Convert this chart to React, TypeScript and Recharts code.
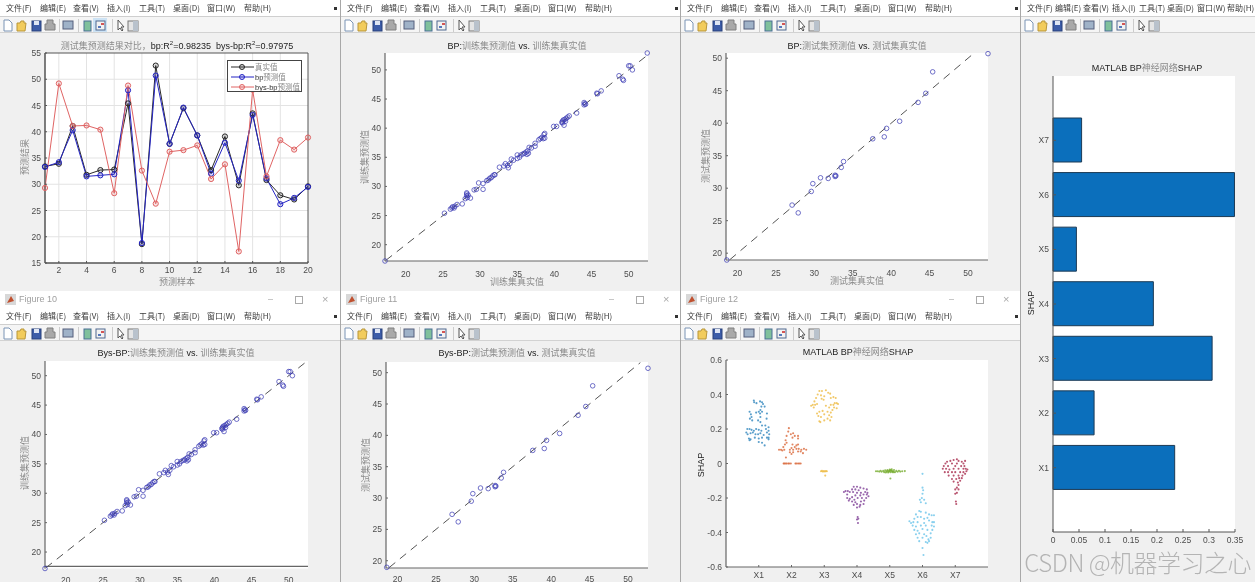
import React from 'react';
import { LineChart, Line, ScatterChart, Scatter, BarChart, Bar, XAxis, YAxis, CartesianGrid, ReferenceLine, ReferenceArea, Cell } from 'recharts';

const sampleIds = [1,2,3,4,5,6,7,8,9,10,11,12,13,14,15,16,17,18,19,20];
const trueValues = [33.4,33.9,41.1,31.8,32.7,32.8,45.4,18.6,52.6,37.7,44.5,39.3,32.7,39.1,29.8,43.5,30.8,27.9,27.1,29.6];
const bpValues = [33.3,34.2,40.3,31.5,31.7,31.9,47.9,18.8,50.7,37.7,44.6,39.3,32.0,37.9,30.7,43.2,31.1,26.2,27.4,29.5];
const bysValues = [29.3,49.2,41.1,41.2,40.4,28.3,48.8,32.6,26.3,36.2,36.5,37.4,31.0,33.8,17.2,48.0,31.5,38.4,36.6,38.9];

const testPairs = [[18.6,18.95],[27.1,27.4],[27.9,26.2],[29.6,29.5],[29.8,30.7],[30.8,31.6],[31.8,31.5],[32.7,31.8],[32.7,32.0],[32.8,31.9],[33.5,33.2],[33.8,34.1],[37.6,37.6],[39.1,37.9],[39.4,39.2],[41.1,40.3],[43.5,43.2],[44.5,44.6],[45.4,47.9],[52.6,50.7]];
const trainPairs = [[17.2,17.2],[25.2,25.4],[26.0,26.1],[26.2,26.3],[26.3,26.5],[26.5,26.3],[26.6,26.6],[26.9,26.9],[27.6,27.0],[28.0,27.9],[28.2,28.4],[28.2,28.9],[28.3,28.1],[28.2,28.7],[28.4,28.5],[28.7,28.0],[29.2,29.4],[29.5,29.5],[29.8,30.6],[30.4,30.5],[30.4,29.5],[30.9,31.0],[31.1,31.1],[31.3,31.4],[31.5,31.5],[31.7,31.8],[31.9,32.0],[32.0,32.0],[32.6,33.3],[33.2,33.5],[33.4,33.9],[33.7,33.6],[33.8,33.2],[34.0,33.9],[34.2,34.7],[34.5,34.5],[35.0,35.4],[35.0,34.8],[35.3,35.0],[35.5,35.4],[35.8,35.6],[36.0,35.7],[36.2,35.9],[36.3,35.5],[36.4,36.1],[36.5,35.7],[36.6,36.7],[36.9,36.6],[37.4,37.4],[37.4,36.9],[37.9,38.0],[38.1,38.2],[38.3,38.4],[38.5,38.2],[38.6,38.9],[38.7,39.1],[38.7,38.3],[39.9,40.3],[40.3,40.3],[41.0,41.0],[41.1,41.2],[41.1,40.9],[41.2,41.4],[41.3,40.5],[41.4,41.5],[41.5,41.2],[41.6,41.7],[41.8,41.9],[42.0,42.1],[43.0,42.6],[44.0,44.4],[44.0,44.0],[44.1,44.2],[44.2,44.1],[45.7,46.0],[45.8,45.9],[46.3,46.4],[48.7,49.0],[49.2,48.4],[49.3,48.2],[50.0,50.7],[50.2,50.7],[50.5,50.0]];
const trainTopPair = [[52.5,52.9]];

const featureNames = ['X1','X2','X3','X4','X5','X6','X7'];
const shapMeans = [0.234,0.079,0.306,0.193,0.045,0.349,0.055];
const shapTicks = [0,0.05,0.1,0.15,0.2,0.25,0.3,0.35];

const swarmX1 = [[0.85,.365],[0.86,.355],[0.93,.35],[1.04,.36],[1.1,.355],[1.13,.345],[1.08,.33],[1.18,.33],[1.05,.31],[1.0,.30],[0.92,.295],[1.1,.30],[1.04,.29],[0.72,.30],[0.76,.285],[1.25,.29],[0.78,.27],[1.05,.27],[0.73,.26],[0.8,.25],[1.24,.26],[0.98,.25],[1.05,.24],[1.1,.22],[1.3,.21],[1.2,.22],[0.65,.2],[0.72,.2],[0.78,.195],[0.85,.19],[0.92,.2],[1.0,.195],[1.08,.19],[1.22,.2],[1.3,.19],[0.62,.18],[0.66,.17],[0.75,.175],[0.82,.18],[0.9,.17],[0.98,.17],[1.05,.175],[1.15,.165],[1.25,.18],[1.32,.17],[0.7,.145],[0.72,.135],[0.75,.14],[0.88,.15],[1.0,.145],[1.1,.15],[1.25,.15],[1.3,.14],[1.0,.125],[1.1,.12],[1.18,.105],[1.3,.15]];
const swarmX2 = [[1.92,.205],[1.9,.185],[1.98,.17],[2.05,.175],[2.1,.16],[2.2,.16],[1.85,.16],[2.03,.15],[2.2,.145],[1.82,.135],[1.85,.12],[1.8,.11],[2.03,.11],[2.15,.105],[2.2,.11],[1.75,.095],[2.1,.095],[2.0,.09],[1.68,.08],[1.62,.08],[1.72,.075],[1.78,.08],[1.95,.08],[2.05,.08],[2.15,.085],[2.22,.085],[2.3,.08],[2.38,.085],[2.45,.08],[1.95,.065],[2.05,.065],[2.2,.07],[2.28,.07],[2.35,.06],[2.0,.055],[1.83,.035],[1.76,0],[1.78,0],[1.82,0],[1.85,0],[1.9,0],[1.93,0],[1.98,0],[2.12,0],[2.15,0],[2.2,0],[2.24,0],[2.28,0]];
const swarmX3 = [[2.85,.42],[2.93,.42],[3.05,.425],[3.12,.41],[3.18,.405],[2.8,.4],[2.9,.395],[3.0,.39],[3.2,.38],[2.75,.38],[2.92,.375],[2.98,.37],[3.28,.385],[3.35,.38],[2.7,.36],[3.32,.35],[2.65,.34],[2.6,.335],[2.72,.34],[2.78,.345],[3.2,.34],[3.28,.34],[3.38,.35],[3.42,.345],[2.68,.325],[3.05,.335],[3.15,.325],[3.3,.325],[3.38,.32],[3.25,.31],[2.95,.305],[3.1,.3],[2.78,.29],[2.85,.3],[3.2,.295],[3.15,.28],[2.82,.275],[2.9,.27],[3.22,.27],[3.0,.285],[2.85,.245],[3.0,.25],[3.1,.26],[3.18,.25],[2.88,.24],[2.9,-.045],[2.93,-.043],[2.96,-.047],[2.99,-.044],[3.02,-.046],[3.05,-.044],[3.08,-.045],[3.03,-.07]];
const swarmX4 = [[3.9,-.135],[4.0,-.135],[4.1,-.14],[3.85,-.15],[3.95,-.15],[4.05,-.155],[4.2,-.145],[4.3,-.15],[3.65,-.16],[3.72,-.16],[3.78,-.165],[3.88,-.165],[4.0,-.17],[4.12,-.17],[4.25,-.165],[4.32,-.17],[3.6,-.165],[3.7,-.18],[3.95,-.185],[4.1,-.185],[4.2,-.18],[4.3,-.18],[4.35,-.19],[3.7,-.2],[3.78,-.205],[3.85,-.195],[3.92,-.21],[4.02,-.2],[4.15,-.2],[4.28,-.2],[3.75,-.215],[3.85,-.22],[3.95,-.225],[4.12,-.22],[4.22,-.215],[4.0,-.235],[4.1,-.24],[4.2,-.235],[3.9,-.24],[4.0,-.255],[4.08,-.25],[4.02,-.31],[4.04,-.32],[4.0,-.325],[4.03,-.345]];
const swarmX5 = [[4.58,-.045],[4.63,-.045],[4.68,-.047],[4.72,-.042],[4.75,-.048],[4.8,-.043],[4.83,-.05],[4.86,-.04],[4.9,-.047],[4.93,-.038],[4.95,-.052],[4.98,-.043],[5,-.035],[5.02,-.05],[5.04,-.042],[5.06,-.033],[5.08,-.05],[5.1,-.045],[5.13,-.038],[5.16,-.05],[5.2,-.043],[5.24,-.048],[5.28,-.042],[5.32,-.047],[5.38,-.045],[5.46,-.044],[5.02,-.087],[4.88,-.052],[4.97,-.047],[5.0,-.042],[5.03,-.038],[5.07,-.044],[5.12,-.05],[4.92,-.044]];
const swarmX6 = [[6,-.06],[6,-.14],[6.02,-.155],[6.0,-.175],[5.92,-.21],[5.98,-.2],[6.05,-.21],[6.1,-.23],[5.95,-.225],[5.9,-.275],[5.95,-.28],[6.1,-.285],[6.2,-.295],[5.8,-.295],[5.85,-.31],[6.28,-.3],[5.75,-.32],[5.95,-.31],[6.05,-.32],[6.15,-.315],[6.35,-.3],[5.6,-.335],[5.65,-.345],[5.72,-.34],[5.85,-.34],[6.05,-.345],[6.2,-.33],[6.3,-.34],[6.35,-.34],[5.7,-.36],[5.8,-.365],[5.95,-.36],[6.1,-.36],[6.28,-.36],[6.35,-.365],[5.75,-.385],[5.85,-.39],[6.0,-.38],[6.15,-.385],[6.3,-.385],[5.8,-.41],[5.9,-.405],[6.05,-.41],[6.12,-.42],[6.25,-.405],[5.85,-.43],[6.0,-.43],[6.18,-.44],[6.25,-.43],[5.9,-.45],[6.1,-.455],[6.15,-.46],[6.2,-.45],[6.0,-.49],[6.03,-.53]];
const swarmX7 = [[6.95,.02],[7.05,.025],[7.1,.015],[6.85,.015],[6.75,.01],[7.2,.01],[7.3,.015],[6.7,0],[6.9,0],[7.05,0],[7.25,0],[6.65,-.015],[6.78,-.015],[7.0,-.015],[7.18,-.015],[7.28,-.015],[6.62,-.03],[6.72,-.03],[6.82,-.035],[6.95,-.03],[7.1,-.03],[7.25,-.03],[7.32,-.03],[7.37,-.035],[6.68,-.05],[6.78,-.05],[6.9,-.05],[7.0,-.05],[7.15,-.05],[7.25,-.05],[7.34,-.045],[6.8,-.07],[6.95,-.07],[7.1,-.07],[7.22,-.07],[7.3,-.06],[6.9,-.09],[7.03,-.09],[7.12,-.085],[7.2,-.085],[6.95,-.105],[7.08,-.11],[7.15,-.1],[7.1,-.125],[7.05,-.14],[7.0,-.15],[7.1,-.15],[7.0,-.175],[7.05,-.17],[7.02,-.22],[7.03,-.235]];
const swarmSeries = [swarmX1,swarmX2,swarmX3,swarmX4,swarmX5,swarmX6,swarmX7];
const swarmColors = ['#2f86bd','#d9683a','#edbb45','#7e3f96','#77ac30','#6cc4ea','#a82a4c'];

const menuItems = ['文件(F)','编辑(E)','查看(V)','插入(I)','工具(T)','桌面(D)','窗口(W)','帮助(H)'];
const menuWide = [6,40,73,107,139,173,207,244];
const menuNarrow = [6,34,62,91,118,146,176,206];

const LATIN = '"Liberation Sans", Arial, sans-serif';
const CJK = '"Liberation Sans", "Noto Sans CJK SC", sans-serif';
const TICK = { fontSize: 8.5, fill: '#4d4d4d', fontFamily: LATIN };
const AXIS = { stroke: '#666', strokeWidth: 1.2 };

const pts = (a: number[][]) => a.map(([x, y]) => ({ x, y }));

function MixedText({ x, y, rotate, children, size = 9 }: any) {
  return (
    <div style={{ position: 'absolute', left: x, top: y, whiteSpace: 'nowrap', fontFamily: CJK, fontSize: size, lineHeight: 1, color: '#222', transform: `translate(-50%,-50%)${rotate ? ' rotate(-90deg)' : ''}` }}>{children}</div>
  );
}
const Zh = ({ children }: any) => <span style={{ color: '#8a8a8a' }}>{children}</span>;

function Toolbar({ active }: { active?: boolean }) {
  return (
    <svg width="145" height="14" style={{ position: 'absolute', left: 0, top: 1 }}>
      <path d="M4 2h5l3 3v8H4z" fill="#fff" stroke="#7a94b5" />
      <path d="M17 5h3l1-2h3v2h2l-1 8h-8z" fill="#f2cc5c" stroke="#b8963a" />
      <rect x="32" y="3" width="9" height="10" fill="#3d5da8" stroke="#28407a" />
      <rect x="34" y="3" width="5" height="4" fill="#dfe6f4" />
      <path d="M47 2h6v4h2v6h-10v-6h2z" fill="#a9a9a9" stroke="#808080" />
      <rect x="59" y="1" width="1" height="13" fill="#ccc" />
      <rect x="63" y="3" width="10" height="8" fill="#9fb2c8" stroke="#555f7c" />
      <rect x="78" y="1" width="1" height="13" fill="#ccc" />
      {active ? <rect x="93" y="0" width="14" height="14" fill="#cde3f5" /> : null}
      <rect x="84" y="3" width="7" height="10" fill="#7fc09c" stroke="#4a6f95" />
      <rect x="96" y="3" width="9" height="9" fill="#f2f2f2" stroke="#4f6890" />
      <rect x="101" y="5" width="3" height="2" fill="#d45555" />
      <rect x="98" y="8" width="3" height="2" fill="#5577bb" />
      <rect x="112" y="1" width="1" height="13" fill="#ccc" />
      <path d="M118 2v10l2-2 2 3 1-1-2-3h3z" fill="#fff" stroke="#555" />
      <rect x="128" y="3" width="10" height="10" fill="#e5e5e5" stroke="#777" />
      <rect x="133" y="3" width="5" height="10" fill="#b9c2cc" />
    </svg>
  );
}

function Window({ x, y, w, h, figure, active, narrow }: any) {
  const head = figure ? 17 : 0;
  const positions = narrow ? menuNarrow : menuWide;
  return (
    <div style={{ position: 'absolute', left: x, top: y, width: w, height: h, background: '#f0f0f0', boxSizing: 'border-box', borderLeft: x ? '1px solid #a8a8a8' : 'none', overflow: 'hidden' }}>
      {figure ? (
        <div style={{ position: 'absolute', left: 0, top: 0, width: w, height: 17, background: '#fff', fontFamily: LATIN, fontSize: 9, color: '#a0a0a0', lineHeight: '17px' }}>
          <svg width="12" height="12" style={{ position: 'absolute', left: 5, top: 3 }}><rect width="11" height="11" fill="#d8d8d8" /><path d="M2 9 L6 2 L9 7z" fill="#c0502f" /></svg>
          <span style={{ position: 'absolute', left: 19 }}>{figure}</span>
          <span style={{ position: 'absolute', left: 268, color: '#aaa' }}>–</span>
          <span style={{ position: 'absolute', left: 295, top: 5, width: 6, height: 6, border: '1px solid #aaa' }} />
          <span style={{ position: 'absolute', left: 322, fontSize: 11, color: '#aaa' }}>×</span>
        </div>
      ) : null}
      <div style={{ position: 'absolute', left: 0, top: head, width: w, height: 17, background: '#fff', borderBottom: '1px solid #cfcfcf', boxSizing: 'border-box' }}>
        {menuItems.map((m, i) => (
          <span key={m} style={{ position: 'absolute', left: positions[i], top: 3, fontFamily: '"Noto Sans CJK SC", sans-serif', fontSize: 8, lineHeight: '10px', color: '#3a3a3a', whiteSpace: 'nowrap' }}>{m}</span>
        ))}
        {narrow ? null : <span style={{ position: 'absolute', left: w - 6, top: 7, width: 3, height: 3, background: '#333' }} />}
      </div>
      <div style={{ position: 'absolute', left: 0, top: head + 17, width: w, height: 16, background: '#f5f5f5', borderBottom: '1px solid #d2d2d2', boxSizing: 'border-box' }}>
        <Toolbar active={active} />
      </div>
    </div>
  );
}

function Ring(props: any) {
  return <circle cx={props.cx} cy={props.cy} r={2.3} fill="none" stroke="#3a3ab4" strokeOpacity={0.8} strokeWidth={0.9} />;
}

function Parity({ rect, xDomain, yDomain, data, lineLo, lineHi, axisAt, labelGap }: any) {
  const [x0, y0, x1, y1] = rect;
  const L = 30, T = 10, R = 12, B = 22;
  const xTicks = [20,25,30,35,40,45,50];
  const yTicks = [20,25,30,35,40,45,50];
  return (
    <div style={{ position: 'absolute', left: x0 - L, top: y0 - T }}>
      <ScatterChart width={x1 - x0 + L + R} height={y1 - y0 + T + B} margin={{ top: T, right: R, bottom: 0, left: 0 }}>
        <CartesianGrid fill="#ffffff" horizontal={false} vertical={false} />
        <XAxis type="number" dataKey="x" domain={xDomain} ticks={xTicks} height={B} tick={TICK} axisLine={axisAt ? false : AXIS} tickLine={false} tickMargin={labelGap ?? 4} interval={0} />
        <YAxis type="number" dataKey="y" domain={yDomain} ticks={yTicks} width={L} tick={TICK} axisLine={AXIS} tickLine={{ stroke: '#666' }} tickSize={-2} tickMargin={6} interval={0} />
        {axisAt ? <ReferenceLine y={axisAt} stroke="#666" strokeWidth={1.2} /> : null}
        <ReferenceLine segment={[{ x: lineLo, y: lineLo }, { x: lineHi, y: lineHi }]} stroke="#555" strokeWidth={1} strokeDasharray="8 6" />
        <Scatter data={data} shape={Ring} isAnimationActive={false} />
      </ScatterChart>
    </div>
  );
}

const Dot = (color: string) => (props: any) => {
  const { cx, cy, index } = props;
  return <circle key={index} cx={cx} cy={cy} r={2.6} fill={color} fillOpacity={0.18} stroke={color} strokeWidth={1} />;
};

const legendRows = [
  { label: <Zh>真实值</Zh>, color: '#2a2a2a' },
  { label: <>bp<Zh>预测值</Zh></>, color: '#2424c4' },
  { label: <>bys-bp<Zh>预测值</Zh></>, color: '#e06464' },
];
function LegendBox() {
  return (
    <div style={{ position: 'absolute', left: 227, top: 60, width: 75, height: 32, boxSizing: 'border-box', background: '#fff', border: '1px solid #444', zIndex: 3 }}>
      {legendRows.map((r, i) => (
        <div key={i} style={{ position: 'absolute', left: 2, top: 0.5 + i * 10.4, height: 10, width: 72 }}>
          <svg width="24" height="10" style={{ position: 'absolute', left: 0, top: 0 }}>
            <line x1="1" y1="5" x2="24" y2="5" stroke={r.color} strokeWidth="1" />
            <circle cx="12" cy="5" r="2.5" fill={r.color} fillOpacity={0.2} stroke={r.color} />
          </svg>
          <span style={{ position: 'absolute', left: 25, top: 1, fontFamily: CJK, fontSize: 7.5, lineHeight: '9px', color: '#333', whiteSpace: 'nowrap' }}>{r.label}</span>
        </div>
      ))}
    </div>
  );
}

const lineData = sampleIds.map((x, i) => ({ x, real: trueValues[i], bp: bpValues[i], bys: bysValues[i] }));
const barData = featureNames.map((name, i) => ({ name, value: shapMeans[i] })).reverse();
const noTick = () => <g />;

export default function App() {
  return (
    <div style={{ position: 'fixed', left: 0, top: 0, width: 1255, height: 582, overflow: 'hidden', background: '#f0f0f0', filter: 'blur(0.35px)' }}>
      <Window x={0} y={0} w={340} h={291} active />
      <Window x={340} y={0} w={340} h={291} />
      <Window x={680} y={0} w={340} h={291} />
      <Window x={1020} y={0} w={235} h={582} narrow />
      <Window x={0} y={291} w={340} h={291} figure="Figure 10" />
      <Window x={340} y={291} w={340} h={291} figure="Figure 11" />
      <Window x={680} y={291} w={340} h={291} figure="Figure 12" />

      {/* Chart 1 */}
      <div style={{ position: 'absolute', left: 15, top: 43 }}>
        <LineChart width={303} height={240} data={lineData} margin={{ top: 10, right: 10, bottom: 0, left: 0 }}>
          <CartesianGrid fill="#fff" stroke="#e3e3e3" horizontalValues={[20,25,30,35,40,45,50]} verticalValues={[2,4,6,8,10,12,14,16,18]} syncWithTicks />
          <XAxis type="number" dataKey="x" domain={[1,20]} ticks={[2,4,6,8,10,12,14,16,18,20]} height={20} tick={TICK} axisLine={{ stroke: '#555' }} tickLine={{ stroke: '#555' }} tickSize={-2} tickMargin={6} interval={0} />
          <YAxis type="number" domain={[15,55]} ticks={[15,20,25,30,35,40,45,50,55]} width={30} tick={TICK} axisLine={{ stroke: '#555' }} tickLine={{ stroke: '#555' }} tickSize={-2} tickMargin={6} interval={0} />
          <ReferenceArea x1={1} x2={20} y1={15} y2={55} fill="none" stroke="#555" strokeWidth={1} />
          <Line dataKey="real" stroke="#2a2a2a" strokeWidth={1} dot={Dot('#2a2a2a')} isAnimationActive={false} />
          <Line dataKey="bp" stroke="#2424c4" strokeWidth={1} dot={Dot('#2424c4')} isAnimationActive={false} />
          <Line dataKey="bys" stroke="#e06464" strokeWidth={1} dot={Dot('#e06464')} isAnimationActive={false} />
        </LineChart>
      </div>
      <LegendBox />
      <MixedText x={177} y={46}><Zh>测试集预测结果对比，</Zh>bp:R<sup style={{ fontSize: 6, lineHeight: 0 }}>2</sup>=0.98235&nbsp;&nbsp;bys-bp:R<sup style={{ fontSize: 6, lineHeight: 0 }}>2</sup>=0.97975</MixedText>
      <MixedText x={177} y={282}><Zh>预测样本</Zh></MixedText>
      <MixedText x={25} y={157} rotate><Zh>预测结果</Zh></MixedText>

      {/* Chart 2 */}
      <Parity rect={[385,53,648,261]} xDomain={[17.2,52.6]} yDomain={[17.2,52.9]} data={pts([...trainPairs, ...trainTopPair])} lineLo={17.3} lineHi={52.6} />
      <MixedText x={517} y={46}>BP:<Zh>训练集预测值</Zh> vs. <Zh>训练集真实值</Zh></MixedText>
      <MixedText x={517} y={282}><Zh>训练集真实值</Zh></MixedText>
      <MixedText x={365} y={157} rotate><Zh>训练集预测值</Zh></MixedText>

      {/* Chart 3 */}
      <Parity rect={[726,53,988,260]} xDomain={[18.5,52.6]} yDomain={[18.95,50.8]} data={pts(testPairs)} lineLo={19} lineHi={50.8} />
      <MixedText x={857} y={46}>BP:<Zh>测试集预测值</Zh> vs. <Zh>测试集真实值</Zh></MixedText>
      <MixedText x={857} y={281}><Zh>测试集真实值</Zh></MixedText>
      <MixedText x={706} y={156} rotate><Zh>测试集预测值</Zh></MixedText>

      {/* Chart 4 */}
      <div style={{ position: 'absolute', left: 1020, top: 66 }}>
        <BarChart width={230} height={496} layout="vertical" data={barData} margin={{ top: 10, right: 15, bottom: 0, left: 0 }} barCategoryGap={0}>
          <CartesianGrid fill="#fff" horizontal={false} vertical={false} />
          <XAxis type="number" domain={[0,0.35]} ticks={shapTicks} height={30} tick={TICK} axisLine={{ stroke: '#555' }} tickLine={{ stroke: '#555' }} tickSize={-3} tickMargin={8} interval={0} />
          <XAxis xAxisId="top" orientation="top" type="number" domain={[0,0.35]} ticks={shapTicks} height={0} tick={noTick} axisLine={{ stroke: '#555' }} tickLine={{ stroke: '#555' }} tickSize={-3} interval={0} />
          <YAxis type="category" dataKey="name" width={33} tick={TICK} axisLine={{ stroke: '#555' }} tickLine={{ stroke: '#555' }} tickSize={-3} tickMargin={7} padding={{ top: 37, bottom: 37 }} interval={0} />
          <YAxis yAxisId="right" orientation="right" type="category" dataKey="name" width={0} tick={noTick} axisLine={{ stroke: '#555' }} tickLine={{ stroke: '#555' }} tickSize={-3} padding={{ top: 37, bottom: 37 }} interval={0} />
          <Bar dataKey="value" barSize={44} fill="#0b6fbc" stroke="#1c3a55" strokeWidth={1} isAnimationActive={false} />
        </BarChart>
      </div>
      <MixedText x={1147} y={68}>MATLAB BP<Zh>神经网络</Zh>SHAP</MixedText>
      <MixedText x={1031} y={303} rotate>SHAP</MixedText>

      {/* Chart 5 */}
      <Parity rect={[45,361,308,568.5]} xDomain={[17.2,52.6]} yDomain={[17.2,52.5]} data={pts(trainPairs)} lineLo={17.3} lineHi={52.5} axisAt={17.55} labelGap={2} />
      <MixedText x={176} y={353}>Bys-BP:<Zh>训练集预测值</Zh> vs. <Zh>训练集真实值</Zh></MixedText>
      <MixedText x={25} y={463} rotate><Zh>训练集预测值</Zh></MixedText>

      {/* Chart 6 */}
      <Parity rect={[386,362,648,568]} xDomain={[18.5,52.6]} yDomain={[18.84,51.7]} data={pts(testPairs)} lineLo={18.9} lineHi={51.6} labelGap={2} />
      <MixedText x={517} y={353}>Bys-BP:<Zh>测试集预测值</Zh> vs. <Zh>测试集真实值</Zh></MixedText>
      <MixedText x={366} y={465} rotate><Zh>测试集预测值</Zh></MixedText>

      {/* Chart 7 */}
      <div style={{ position: 'absolute', left: 696, top: 350 }}>
        <ScatterChart width={304} height={232} margin={{ top: 10, right: 12, bottom: 0, left: 0 }}>
          <CartesianGrid fill="#fff" horizontal={false} vertical={false} />
          <XAxis type="number" dataKey="x" domain={[0,8]} ticks={[1,2,3,4,5,6,7]} tickFormatter={(v: number) => featureNames[v - 1]} height={15} tick={TICK} axisLine={AXIS} tickLine={{ stroke: '#666' }} tickSize={-2} tickMargin={7} interval={0} />
          <YAxis type="number" dataKey="y" domain={[-0.6,0.6]} ticks={[-0.6,-0.4,-0.2,0,0.2,0.4,0.6]} width={30} tick={TICK} axisLine={AXIS} tickLine={{ stroke: '#666' }} tickSize={-2} tickMargin={6} interval={0} />
          {swarmSeries.map((s, i) => (
            <Scatter key={i} data={pts(s)} isAnimationActive={false} shape={(p: any) => <circle cx={p.cx} cy={p.cy} r={1.05} fill={swarmColors[i]} fillOpacity={0.8} />} />
          ))}
        </ScatterChart>
      </div>
      <MixedText x={858} y={352}>MATLAB BP<Zh>神经网络</Zh>SHAP</MixedText>
      <MixedText x={701} y={465} rotate>SHAP</MixedText>

      <div style={{ position: 'absolute', right: 4, top: 547, fontFamily: '"Noto Sans CJK SC", sans-serif', fontWeight: 300, fontSize: 24, lineHeight: '30px', color: 'rgba(120,120,120,0.5)', whiteSpace: 'nowrap', letterSpacing: -0.5 }}>CSDN @机器学习之心</div>
    </div>
  );
}
